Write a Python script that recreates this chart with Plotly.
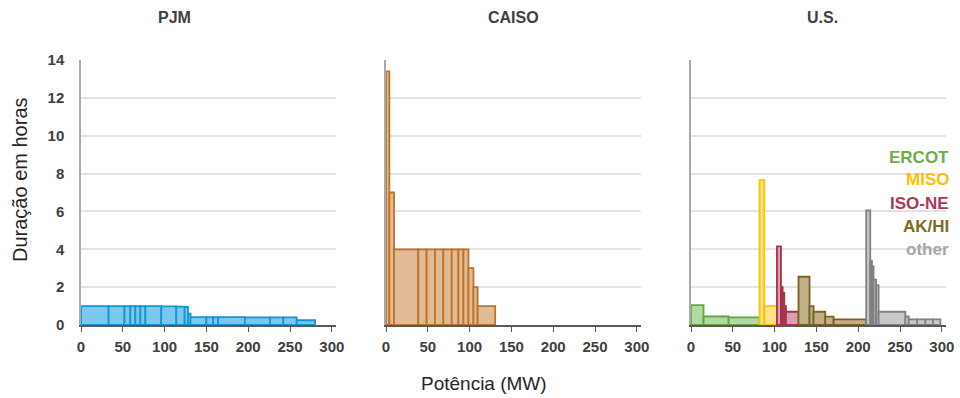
import plotly.graph_objects as go

# ---------------- data (power MW per project, duration hours) ----------------
panel_titles = ["PJM", "CAISO", "U.S."]

pjm_power = [33, 19, 7, 6, 6, 6, 19, 18, 10, 4, 3, 19, 8, 6, 32, 30, 16, 16, 22]
pjm_hours = [1.0, 1.0, 1.0, 1.0, 1.0, 1.0, 1.0, 0.98, 0.97, 0.95, 0.6,
             0.42, 0.42, 0.42, 0.42, 0.4, 0.4, 0.4, 0.25]

caiso_power = [4, 5.6, 29, 10, 10, 10, 10, 8, 6, 6, 6, 5, 21]
caiso_hours = [13.4, 7.0, 4.0, 4.0, 4.0, 4.0, 4.0, 4.0, 4.0, 4.0, 3.0, 2.0, 1.0]

us_regions = ["ERCOT", "MISO", "ISO-NE", "AK/HI", "other"]
ercot_power = [15, 30, 37]
ercot_hours = [1.05, 0.45, 0.4]
miso_power = [5.6, 15.2]
miso_hours = [7.65, 1.0]
isone_power = [4.8, 2, 2, 2, 15]
isone_hours = [4.15, 2.0, 1.7, 1.0, 0.7]
akhi_power = [13.2, 4.8, 14, 10, 39]
akhi_hours = [2.55, 1.0, 0.7, 0.44, 0.3]
other_power = [4.8, 2, 2, 3, 3, 32, 4, 10, 10, 9, 9]
other_hours = [6.05, 3.4, 3.1, 2.4, 2.1, 0.7, 0.45, 0.3, 0.3, 0.3, 0.3]

x_ticks = [0, 50, 100, 150, 200, 250, 300]
y_ticks = [0, 2, 4, 6, 8, 10, 12, 14]

# ---------------- styles ----------------
FONT = "Liberation Sans, Arial, sans-serif"
TXT = "#404040"
pjm_style = ("#7cc7ee", "#1496d6")
caiso_style = ("#e0bb95", "#c0722a")
us_styles = {
    "ERCOT": ("#b5d7a0", "#62a83e"),
    "MISO": ("#ffe38a", "#ffc000"),
    "ISO-NE": ("#dba0ad", "#a8324c"),
    "AK/HI": ("#bfb088", "#7a6322"),
    "other": ("#c8c8c8", "#808080"),
}
legend_colors = {
    "ERCOT": "#70ad47",
    "MISO": "#ffc000",
    "ISO-NE": "#a93a55",
    "AK/HI": "#7f6a22",
    "other": "#a6a6a6",
}


def bar_trace(power, hours, start, style, axis):
    lefts = []
    pos = start
    for p in power:
        lefts.append(pos)
        pos += p
    centers = [l + p / 2 for l, p in zip(lefts, power)]
    trace = go.Bar(
        x=centers, y=hours, width=power, base=0,
        marker=dict(color=style[0], line=dict(color=style[1], width=1.8)),
        xaxis=axis[0], yaxis=axis[1], showlegend=False, hoverinfo="x+y",
    )
    return trace, pos


fig = go.Figure()

t, _ = bar_trace(pjm_power, pjm_hours, 0, pjm_style, ("x", "y"))
fig.add_trace(t)
t, _ = bar_trace(caiso_power, caiso_hours, 0, caiso_style, ("x2", "y2"))
fig.add_trace(t)

us_data = {
    "ERCOT": (ercot_power, ercot_hours),
    "MISO": (miso_power, miso_hours),
    "ISO-NE": (isone_power, isone_hours),
    "AK/HI": (akhi_power, akhi_hours),
    "other": (other_power, other_hours),
}
start = 0
for reg in us_regions:
    pw, hr = us_data[reg]
    t, start = bar_trace(pw, hr, start, us_styles[reg], ("x3", "y3"))
    fig.add_trace(t)

W, H = 960, 398
# pixel layout of each panel (left edge of 0, px per MW)
x_left = [81, 386, 691]
px_per_mw = 0.836
x_max = 305
y_top_px, y_bot_px = 60, 325


def xdom(left):
    return [left / W, (left + x_max * px_per_mw) / W]


ydom = [1 - y_bot_px / H, 1 - y_top_px / H]

common_x = dict(
    range=[0, x_max], tickvals=x_ticks, ticktext=[str(v) for v in x_ticks],
    showgrid=False, zeroline=False, showline=True, linecolor="#595959", linewidth=1.5,
    ticks="outside", ticklen=5, tickcolor="#595959", tickwidth=1.2,
    tickfont=dict(family=FONT, size=15, color=TXT, weight="bold"), ticklabelstandoff=2,
    fixedrange=True, automargin=False,
)
common_y = dict(
    range=[0, 14], tickvals=y_ticks, showgrid=True, gridcolor="#e3e3e3", gridwidth=2,
    zeroline=False, showline=True, linecolor="#a8a8a8", linewidth=1.5, ticks="",
    tickfont=dict(family=FONT, size=15, color=TXT, weight="bold"), fixedrange=True,
    automargin=False,
)

layout = dict(
    width=W, height=H, margin=dict(l=0, r=0, t=0, b=0, pad=0), autosize=False,
    paper_bgcolor="white", plot_bgcolor="white", barmode="overlay",
    font=dict(family=FONT, color=TXT),
)
for i, name in enumerate(["", "2", "3"]):
    layout["xaxis" + name] = dict(common_x, domain=xdom(x_left[i]), anchor="y" + name)
    yd = dict(common_y, domain=ydom, anchor="x" + name)
    if i > 0:
        yd["showticklabels"] = False
    else:
        yd["ticklabelstandoff"] = 12
    layout["yaxis" + name] = yd

fig.update_layout(**layout)

annotations = []
title_x = [174, 513, 822]
for tx, title in zip(title_x, panel_titles):
    annotations.append(dict(
        x=tx / W, y=1 - 18 / H, xref="paper", yref="paper", text="<b>%s</b>" % title,
        showarrow=False, font=dict(family=FONT, size=16, color=TXT),
        xanchor="center", yanchor="middle",
    ))
annotations.append(dict(
    x=20 / W, y=1 - 180 / H, xref="paper", yref="paper", text="Duração em horas",
    textangle=-90, showarrow=False, font=dict(family=FONT, size=20, color="#262626"),
    xanchor="center", yanchor="middle",
))
annotations.append(dict(
    x=484 / W, y=1 - 383 / H, xref="paper", yref="paper", text="Potência (MW)",
    showarrow=False, font=dict(family=FONT, size=19, color="#262626"),
    xanchor="center", yanchor="middle",
))
leg_y = [157, 180, 203, 226, 249]
for ly, reg in zip(leg_y, us_regions):
    annotations.append(dict(
        x=951 / W, y=1 - ly / H, xref="paper", yref="paper", text="<b>%s</b>" % reg,
        showarrow=False, font=dict(family=FONT, size=17, color=legend_colors[reg]),
        xanchor="right", yanchor="middle",
    ))
fig.update_layout(annotations=annotations)

fig.write_html("out.html", config={"responsive": False, "displayModeBar": False})
